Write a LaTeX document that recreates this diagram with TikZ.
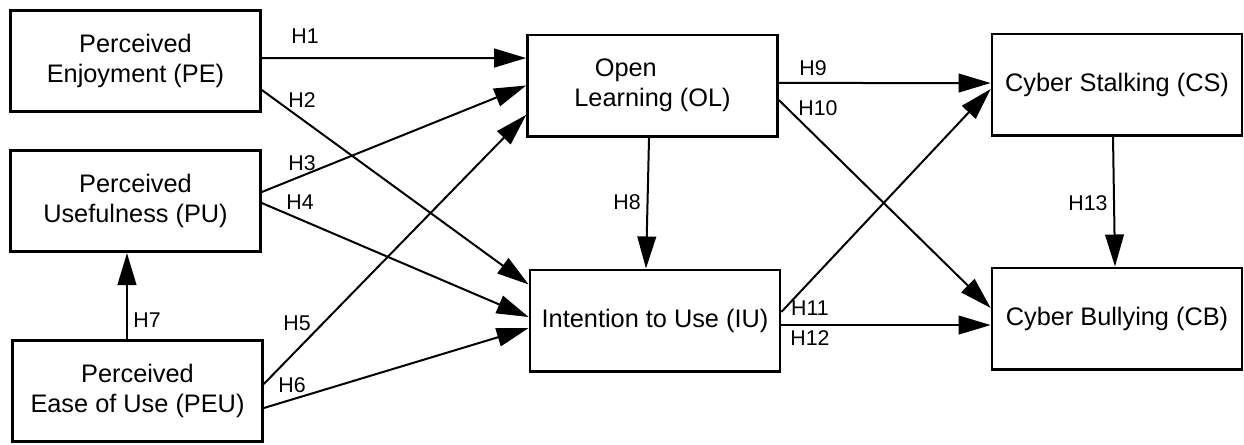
\documentclass[tikz,border=0pt]{standalone}
\usepackage{fontspec}
\setmainfont{Liberation Sans}
\usetikzlibrary{arrows.meta}
\begin{document}
\begin{tikzpicture}[x=0.75pt,y=-0.75pt,
    box/.style={draw,line width=2pt,minimum width=187.5pt,minimum height=76pt,
      inner sep=0pt,align=center,font=\fontsize{19}{22.5}\selectfont},
    hyp/.style={font=\fontsize{16}{19}\selectfont,inner sep=0pt},
    link/.style={line width=1.5pt,-{Triangle[length=24pt,width=14pt]}}]
  \useasboundingbox (0,0) rectangle (1244,444);
  % constructs
  \node[box] (PE) at (135.5,61) {Perceived\\Enjoyment (PE)};
  \node[box] (PU) at (135.5,201) {Perceived\\Usefulness (PU)};
  \node[box] (PEU) at (137.5,391) {Perceived\\Ease of Use (PEU)};
  \node[box] (OL) at (652.5,85.5) {Open\hspace*{40pt}\\Learning (OL)};
  \node[box] (IU) at (655,320.5) {Intention to Use (IU)};
  \node[box] (CS) at (1117,84.5) {Cyber Stalking (CS)};
  \node[box] (CB) at (1117,318.5) {Cyber Bullying (CB)};
  % hypotheses
  \draw[link] ([yshift=2.25pt]PE.east) -- ([yshift=20.6pt]OL.west);
  \draw[link] ([yshift=-21.75pt]PE.east) -- ([yshift=27pt]IU.west);
  \draw[link] ([yshift=6.75pt]PU.east) -- (OL.west);
  \draw[link] ([yshift=-1.5pt]PU.east) -- ([yshift=2.6pt]IU.west);
  \draw[link] ([yshift=5.25pt]PEU.east) -- ([yshift=-22pt]OL.west);
  \draw[link] ([yshift=-12.75pt]PEU.east) -- ([yshift=-5.6pt]IU.west);
  \draw[link] ([xshift=-7.9pt]PEU.north) -- ([xshift=-6.4pt]PU.south);
  \draw[link] ([xshift=-2.6pt]OL.south) -- ([xshift=-6.75pt]IU.north);
  \draw[link] ([yshift=1.9pt]OL.east) -- ([yshift=1.1pt]CS.west);
  \draw[link] ([yshift=-10.9pt]OL.east) -- ([yshift=7.9pt]CB.west);
  \draw[link] ([yshift=6.4pt]IU.east) -- ([yshift=-3.4pt]CS.west);
  \draw[link] ([yshift=-3.4pt]IU.east) -- ([yshift=-4.9pt]CB.west);
  \draw[link] ([xshift=-3pt]CS.south) -- ([xshift=-1.5pt]CB.north);
  \foreach \n/\x/\y in {1/305/36,2/302/100,3/302/163,4/300/202,5/297/323,
      6/292/385,7/147/320,8/627/202,9/813/68,10/818/108,11/810/308,
      12/810/338,13/1088/203}
    \node[hyp] (h\n) at (\x,\y) {H\n};
\end{tikzpicture}
\end{document}
